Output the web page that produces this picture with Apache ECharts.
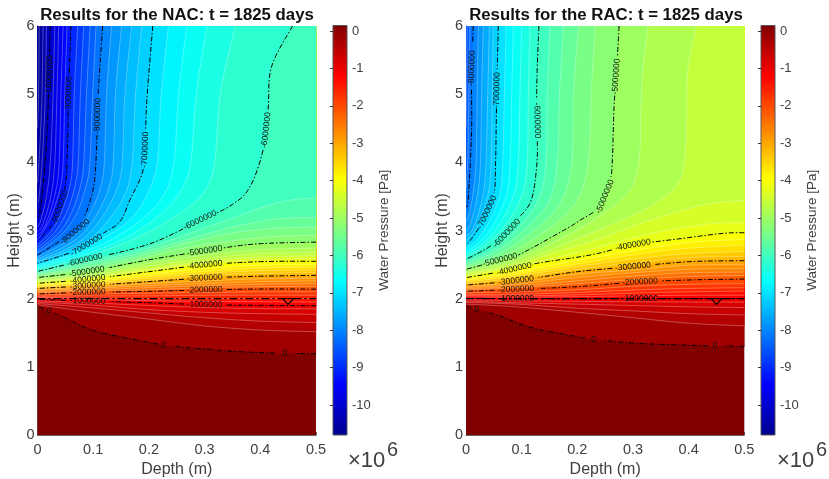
<!DOCTYPE html>
<html><head><meta charset="utf-8">
<style>html,body{margin:0;padding:0;background:#fff}#c{width:829px;height:479px}</style>
<script src="https://cdn.jsdelivr.net/npm/echarts@6/dist/echarts.min.js"></script>
</head><body><div id="c"></div>
<script>
// Depths (m) at which the nearly horizontal contours were read
const stationDepths = [.5,.4,.3,.2,.09,0];
const depthTicks = [0,.1,.2,.3,.4,.5];
const heightTicks = [0,1,2,3,4,5,6];
const colorbarTicks = [0,-1,-2,-3,-4,-5,-6,-7,-8,-9,-10];
const colorMin = -10.8, colorMax = .15;
const waterTable = 2;
const markerDepth = .45, markerHeight = 1.96;

// Contour levels, in 1e6 Pa
const levels = [0,-.2,-.4,-.6,-.8,-1,-1.2,-1.4,-1.6,-1.8,-2,-2.2,-2.4,-2.6,-2.8,-3,-3.2,-3.4,-3.6,-3.8,-4,-4.2,-4.4,-4.6,-4.8,-5,-5.2,-5.4,-5.6,-5.8,-6,-6.2,-6.4,-6.6,-6.8,-7,-7.2,-7.4,-7.6,-7.8,-8,-8.2,-8.4,-8.6,-8.8,-9,-9.2,-9.4,-9.6,-9.8,-10,-10.2,-10.4,-10.6];

// NAC contours, one per level: [depth,height] pairs, or heights at stationDepths
const nacContours = [
[[.5,1.193],[.444,1.198],[.364,1.222],[.292,1.266],[.226,1.32],[.154,1.433],[.112,1.506],[.082,1.59],[.05,1.72],[.02,1.82],[0,1.89]],
[1.515,1.54,1.6,1.7,1.81,1.91],[1.65,1.67,1.72,1.79,1.87,1.93],[1.77,1.78,1.8,1.84,1.91,1.95],[1.85,1.855,1.87,1.9,1.94,1.97],
[1.897,1.902,1.912,1.941,1.966,1.99],[1.95,1.955,1.96,1.97,1.99,2.005],[2,2,2,2,2.01,2.02],[2.05,2.05,2.05,2.04,2.04,2.035],[2.1,2.1,2.09,2.08,2.07,2.055],
[2.14,2.142,2.127,2.108,2.093,2.07],[2.18,2.175,2.16,2.13,2.11,2.085],[2.22,2.21,2.19,2.16,2.13,2.1],[2.26,2.25,2.22,2.19,2.15,2.12],[2.3,2.29,2.26,2.22,2.17,2.135],
[2.342,2.33,2.303,2.25,2.19,2.15],[2.38,2.37,2.335,2.27,2.205,2.165],[2.42,2.41,2.37,2.3,2.22,2.18],[2.46,2.45,2.4,2.33,2.24,2.195],[2.5,2.49,2.44,2.36,2.26,2.21],
[2.548,2.543,2.494,2.396,2.284,2.225],[2.59,2.575,2.52,2.42,2.3,2.24],[2.63,2.61,2.55,2.44,2.32,2.255],[2.68,2.66,2.59,2.48,2.34,2.27],[2.74,2.72,2.64,2.52,2.37,2.29],
[[.5,2.83],[.388,2.8],[.3,2.7],[.2,2.57],[.0885,2.396],[0,2.31]],
[[.5,2.93],[.42,2.91],[.33,2.83],[.25,2.72],[.16,2.54],[.08,2.425],[0,2.33]],
[[.5,3.05],[.42,3.03],[.34,2.95],[.26,2.8],[.17,2.6],[.08,2.455],[0,2.35]],
[[.5,3.19],[.43,3.17],[.35,3.05],[.27,2.87],[.18,2.66],[.08,2.49],[0,2.37]],
[[.5,3.48],[.45,3.44],[.4,3.33],[.34,3.15],[.27,2.95],[.18,2.7],[.08,2.52],[0,2.385]],
[[.458,6],[.42,5.4],[.414,4.77],[.405,4.18],[.38,3.62],[.345,3.356],[.292,3.15],[.2,2.8],[.085,2.566],[0,2.4]],
[[.355,6],[.328,5],[.318,4],[.298,3.55],[.255,3.25],[.185,2.92],[.09,2.62],[0,2.425]],
[[.304,6],[.285,5],[.275,4],[.255,3.55],[.215,3.2],[.155,2.88],[.085,2.65],[0,2.45]],
[[.268,6],[.253,5],[.245,4],[.225,3.5],[.185,3.15],[.135,2.88],[.08,2.68],[0,2.47]],
[[.235,6],[.222,5],[.215,4],[.195,3.5],[.165,3.15],[.12,2.9],[.07,2.68],[0,2.495]],
[[.207,6],[.197,5],[.194,4.48],[.19,3.9],[.166,3.45],[.148,3.13],[.118,2.96],[.088,2.785],[.056,2.665],[0,2.52]],
[[.187,6],[.176,5],[.17,4],[.158,3.55],[.13,3.18],[.095,2.88],[.05,2.68],[0,2.54]],
[[.169,6],[.157,5],[.152,4],[.142,3.6],[.118,3.22],[.085,2.9],[.045,2.7],[0,2.56]],
[[.151,6],[.14,5],[.136,4],[.127,3.6],[.105,3.22],[.078,2.93],[.04,2.73],[0,2.585]],
[[.133,6],[.124,5],[.12,4],[.112,3.6],[.094,3.25],[.07,2.95],[.035,2.76],[0,2.61]],
[[.117,6],[.109,5],[.107,4.4],[.102,3.7],[.089,3.3],[.078,3.12],[.067,2.98],[.03,2.79],[0,2.64]],
[[.105,6],[.099,5],[.094,4],[.087,3.65],[.072,3.28],[.05,3],[.022,2.8],[0,2.675]],
[[.0945,6],[.088,5],[.083,4],[.077,3.65],[.062,3.28],[.042,3],[.018,2.82],[0,2.71]],
[[.083,6],[.077,5],[.073,4],[.067,3.65],[.054,3.3],[.035,3.02],[.015,2.85],[0,2.75]],
[[.072,6],[.066,5],[.063,4],[.058,3.65],[.047,3.35],[.03,3.05],[.012,2.88],[0,2.79]],
[[.06,6],[.056,5],[.053,4],[.049,3.6],[.04,3.34],[.028,3.1],[.012,2.95],[0,2.83]],
[[.053,6],[.049,5],[.046,4],[.04,3.6],[.024,3.2],[.008,2.96],[0,2.87]],
[[.046,6],[.042,5],[.039,4],[.032,3.55],[.015,3.1],[0,2.92]],
[[.038,6],[.035,5],[.031,4],[.024,3.5],[.01,3.1],[0,2.98]],
[[.031,6],[.028,5],[.023,4],[.016,3.5],[.006,3.15],[0,3.05]],
[[.0227,6],[.02,5],[.0138,4],[.005,3.3],[0,3.17]],
[[.016,6],[.014,5],[.009,4.1],[.003,3.5],[0,3.4]],
[[.01,6],[.008,5],[.004,4.2],[0,3.7]],
[[.003,6],[.002,5],[0,4.5]]
];

// RAC contours (level -8.6 and below do not occur)
const racContours = [
[[.5,1.3],[.447,1.306],[.39,1.32],[.307,1.345],[.229,1.403],[.175,1.48],[.115,1.58],[.061,1.746],[.019,1.843],[0,1.892]],
[1.6,1.64,1.72,1.8,1.88,1.92],[1.76,1.78,1.82,1.86,1.92,1.945],[1.87,1.88,1.9,1.92,1.94,1.965],[1.95,1.95,1.955,1.96,1.97,1.985],
[2,2,2,2,2,2.005],[2.05,2.05,2.04,2.03,2.02,2.025],[2.11,2.1,2.08,2.055,2.04,2.045],[2.16,2.15,2.125,2.09,2.065,2.065],[2.22,2.21,2.18,2.13,2.1,2.09],
[2.288,2.274,2.24,2.176,2.137,2.108],[2.34,2.325,2.28,2.22,2.16,2.125],[2.39,2.38,2.33,2.26,2.18,2.145],[2.44,2.43,2.38,2.31,2.21,2.16],[2.5,2.49,2.42,2.36,2.24,2.18],
[2.557,2.543,2.47,2.396,2.264,2.2],[2.62,2.6,2.52,2.43,2.3,2.22],[2.69,2.66,2.58,2.47,2.33,2.245],[2.78,2.74,2.64,2.51,2.36,2.265],[2.87,2.82,2.7,2.56,2.39,2.285],
[[.5,2.968],[.462,2.958],[.39,2.885],[.3,2.787],[.223,2.64],[.127,2.518],[.079,2.42],[0,2.308]],
[[.5,3.12],[.43,3.09],[.33,2.95],[.23,2.74],[.15,2.58],[.09,2.47],[0,2.33]],
[[.5,3.44],[.43,3.38],[.33,3.15],[.24,2.88],[.16,2.68],[.09,2.5],[0,2.355]],
[[.414,6],[.399,5.4],[.396,4.7],[.393,4.05],[.378,3.66],[.33,3.35],[.25,3.05],[.17,2.78],[.09,2.53],[0,2.38]],
[[.327,6],[.318,5.4],[.314,4.7],[.311,4.05],[.295,3.6],[.247,3.25],[.18,2.92],[.09,2.58],[0,2.405]],
[[.275,6],[.271,5.4],[.266,4.82],[.263,4.04],[.259,3.75],[.241,3.36],[.205,3.15],[.175,3],[.094,2.64],[.061,2.567],[0,2.43]],
[[.232,6],[.225,5],[.22,4],[.2,3.45],[.16,3.1],[.07,2.63],[0,2.455]],
[[.202,6],[.193,5],[.19,4],[.172,3.45],[.13,3.05],[.06,2.66],[0,2.48]],
[[.175,6],[.168,5],[.164,4],[.15,3.45],[.11,3.05],[.055,2.7],[0,2.51]],
[[.151,6],[.146,5],[.144,4],[.13,3.45],[.095,3.05],[.05,2.72],[0,2.54]],
[[.131,6],[.128,5.4],[.127,4.92],[.128,4.43],[.127,3.94],[.115,3.4],[.079,3.07],[.073,2.958],[.04,2.75],[0,2.577]],
[[.115,6],[.112,5],[.11,4],[.1,3.5],[.066,3.03],[.03,2.76],[0,2.61]],
[[.1,6],[.097,5],[.094,4],[.085,3.5],[.055,3.03],[.025,2.78],[0,2.65]],
[[.085,6],[.082,5],[.079,4],[.072,3.5],[.045,3.03],[.02,2.8],[0,2.69]],
[[.072,6],[.069,5],[.066,4],[.06,3.5],[.036,3.05],[.015,2.83],[0,2.74]],
[[.058,6],[.055,4.92],[.053,3.94],[.049,3.5],[.025,3.07],[.01,2.88],[0,2.787]],
[[.049,6],[.047,5],[.045,4],[.04,3.55],[.02,3.05],[0,2.85]],
[[.042,6],[.039,5],[.036,4],[.03,3.5],[.014,3.05],[0,2.92]],
[[.031,6],[.028,5],[.026,4],[.02,3.5],[.008,3.1],[0,3]],
[[.022,6],[.02,5],[.018,4],[.012,3.5],[.004,3.2],[0,3.12]],
[[.013,6],[.01,5.16],[.01,4.43],[.004,3.45],[0,3.36]],
[[.007,6],[.005,5],[.003,4],[0,3.6]],
[[.002,6],[.001,5],[0,4.5]]
];

// Contour labels: [level, depth, height]
const nacLabels = [[-10,.02,5.26],[-9,.056,5.04],[-9,.04,3.34],[-8,.108,4.7],[-8,.067,2.98],[-7,.194,4.19],[-7,.088,2.785],[-6,.41,4.5],[-6,.292,3.15],[-6,.085,2.566],[-5,.0885,2.396],[-5,.3,2.7],[-4,.087,2.284],[-4,.304,2.494],[-3,.087,2.19],[-3,.3,2.303],[-2,.087,2.093],[-2,.3,2.127],[-1,.087,1.966],[-1,.3,1.912],[0,.02,1.82],[0,.226,1.32],[0,.444,1.198]];
const racLabels = [[-8,.01,5.36],[-7,.055,5.02],[-7,.037,3.26],[-6,.128,4.6],[-6,.073,2.958],[-5,.269,5.26],[-5,.244,3.5],[-5,.061,2.567],[-4,.3,2.787],[-4,.088,2.41],[-3,.304,2.47],[-3,.088,2.264],[-2,.307,2.24],[-2,.088,2.137],[-1,.088,2],[-1,.307,2],[0,.019,1.843],[0,.229,1.403],[0,.447,1.306]];

const jetStops = [[0,'rgb(0,0,143)'],[.125,'rgb(0,0,255)'],[.375,'rgb(0,255,255)'],[.625,'rgb(255,255,0)'],[.875,'rgb(255,0,0)'],[1,'rgb(128,0,0)']];
function jet(v){
  const t=(v-colorMin)/(colorMax-colorMin);
  const k=[[0,0,0,143],[.125,0,0,255],[.375,0,255,255],[.625,255,255,0],[.875,255,0,0],[1,128,0,0]];
  for(let i=1;i<k.length;i++){ if(t<=k[i][0]){ const a=k[i-1],b=k[i],f=(t-a[0])/(b[0]-a[0]);
    return `rgb(${Math.round(a[1]+(b[1]-a[1])*f)},${Math.round(a[2]+(b[2]-a[2])*f)},${Math.round(a[3]+(b[3]-a[3])*f)})`; } }
  return 'rgb(128,0,0)';
}
function pairs(c){ return typeof c[0]==='number' ? c.map((h,i)=>[stationDepths[i],h]) : c; }
function spline(p){
  const out=[]; const n=p.length;
  for(let i=0;i<n-1;i++){
    const a=p[Math.max(i-1,0)],b=p[i],c=p[i+1],d=p[Math.min(i+2,n-1)];
    for(let s=0;s<8;s++){ const t=s/8,t2=t*t,t3=t2*t;
      out.push([.5*(2*b[0]+(c[0]-a[0])*t+(2*a[0]-5*b[0]+4*c[0]-d[0])*t2+(3*b[0]-a[0]-3*c[0]+d[0])*t3),
                .5*(2*b[1]+(c[1]-a[1])*t+(2*a[1]-5*b[1]+4*c[1]-d[1])*t2+(3*b[1]-a[1]-3*c[1]+d[1])*t3)]); }
  }
  out.push(p[n-1]); return out;
}
function nearest(line,pt){ let bi=0,bd=1e12; line.forEach((q,i)=>{const e=(q[0]-pt[0])**2+(q[1]-pt[1])**2; if(e<bd){bd=e;bi=i;}}); return bi; }
function labelHalf(level){ return level===0?5:18; }

function fillSeries(contours,idx){
  return {type:'custom',xAxisIndex:idx,yAxisIndex:idx,z:2,silent:true,clip:true,
    data:[-1].concat(contours.map((c,i)=>i)).map(i=>[i]),
    renderItem(params,api){
      const i=api.value(0);
      if(i<0){ const a=api.coord([0,6]),b=api.coord([.5,0]);
        return {type:'rect',shape:{x:a[0],y:a[1],width:b[0]-a[0],height:b[1]-a[1]},style:{fill:jet(colorMax)}}; }
      const line=pairs(contours[i]);
      const pts=spline(line.map(p=>api.coord(p)));
      pts.push(api.coord([0,6]));
      if(line[0][0]===.5) pts.push(api.coord([.5,6]));
      const col=jet(levels[i]-.2);
      return {type:'polygon',shape:{points:pts},style:{fill:col,stroke:col,lineWidth:.3}};
    }};
}
function lineSeries(contours,labels,idx){
  const order=contours.map((c,i)=>i).sort((a,b)=>Number(Number.isInteger(levels[a]))-Number(Number.isInteger(levels[b])));
  return {type:'custom',xAxisIndex:idx,yAxisIndex:idx,z:3,silent:true,clip:true,
    data:order.map(i=>[i]),
    renderItem(params,api){
      const i=api.value(0),lev=levels[i];
      const pts=spline(pairs(contours[i]).map(p=>api.coord(p)));
      if(!Number.isInteger(lev))
        return {type:'polyline',shape:{points:pts},style:{stroke:'rgba(255,255,255,.42)',lineWidth:.7,fill:null}};
      const centres=labels.filter(l=>l[0]===lev).map(l=>pts[nearest(pts,api.coord([l[1],l[2]]))]);
      const runs=[];let cur=[];
      pts.forEach(q=>{
        const hid=centres.some(c=>Math.hypot(q[0]-c[0],q[1]-c[1])<labelHalf(lev));
        if(hid){ if(cur.length>1)runs.push(cur); cur=[]; } else cur.push(q);
      });
      if(cur.length>1)runs.push(cur);
      return {type:'group',children:runs.map(r=>({type:'polyline',shape:{points:r},style:{stroke:'#000',lineWidth:1,lineDash:[5,2,1.5,2],fill:null}}))};
    }};
}
function labelSeries(contours,labels,idx){
  return {type:'custom',xAxisIndex:idx,yAxisIndex:idx,z:4,silent:true,clip:false,
    data:labels.map((l,i)=>[i]),
    renderItem(params,api){
      const l=labels[api.value(0)];
      const pts=spline(pairs(contours[levels.indexOf(l[0])]).map(p=>api.coord(p)));
      const k=nearest(pts,api.coord([l[1],l[2]]));
      const a=pts[Math.max(k-3,0)],b=pts[Math.min(k+3,pts.length-1)];
      let ang=Math.atan2(-(b[1]-a[1]),b[0]-a[0]);
      if(ang>Math.PI/2)ang-=Math.PI; if(ang<-Math.PI/2)ang+=Math.PI;
      return {type:'text',x:pts[k][0],y:pts[k][1],rotation:ang,
        style:{text:String(l[0]*1e6),fill:'#111',font:'8.5px "Liberation Sans"',align:'center',verticalAlign:'middle'}};
    }};
}
function waterSeries(idx){
  return [{type:'line',xAxisIndex:idx,yAxisIndex:idx,z:5,silent:true,symbol:'none',data:[[0,waterTable],[.5,waterTable]],
      lineStyle:{color:'#000',width:1.4,type:[8,3,2,3]}},
    {type:'scatter',xAxisIndex:idx,yAxisIndex:idx,z:5,silent:true,data:[[markerDepth,markerHeight]],symbol:'triangle',symbolRotate:180,symbolSize:[11,6],
      itemStyle:{color:'rgba(0,0,0,0)',borderColor:'#000',borderWidth:1.4}}];
}
function barSeries(idx){
  return {type:'custom',xAxisIndex:idx,yAxisIndex:idx,z:2,silent:true,data:[[0,colorMax]],
    renderItem(params,api){
      const a=api.coord([0,colorMax]),b=api.coord([1,colorMin]);
      return {type:'rect',shape:{x:a[0],y:a[1],width:b[0]-a[0],height:b[1]-a[1]},
        style:{fill:{type:'linear',x:0,y:1,x2:0,y2:0,colorStops:jetStops.map(s=>({offset:s[0],color:s[1]}))},stroke:'#555',lineWidth:1}};
    }};
}
const ink='#404040', font='Liberation Sans';
function xAxis(idx,bar){
  if(bar) return {type:'value',gridIndex:idx,min:0,max:1,show:false};
  return {type:'value',gridIndex:idx,min:0,max:.5,interval:.1,name:'Depth (m)',nameLocation:'middle',nameGap:25,
    nameTextStyle:{color:ink,fontFamily:font,fontSize:16},
    axisLine:{show:true,onZero:false,lineStyle:{color:'#666'}},axisTick:{inside:true,length:3,lineStyle:{color:'#666'}},
    axisLabel:{color:ink,fontFamily:font,fontSize:14.5,margin:7,formatter:v=>String(+v.toFixed(1))},splitLine:{show:false}};
}
function yAxis(idx,bar){
  if(bar) return {type:'value',gridIndex:idx,position:'right',min:colorMin,max:colorMax,name:'Water Pressure [Pa]',nameLocation:'middle',nameGap:30,nameRotate:90,
    nameTextStyle:{color:ink,fontFamily:font,fontSize:13.5},
    axisLine:{show:false},axisTick:{show:true,inside:true,length:3,customValues:colorbarTicks,lineStyle:{color:'#333'}},
    axisLabel:{show:true,customValues:colorbarTicks,color:ink,fontFamily:font,fontSize:13,margin:5,padding:[2,0,0,0]},splitLine:{show:false},z:6};
  return {type:'value',gridIndex:idx,min:0,max:6,interval:1,name:'Height (m)',nameLocation:'middle',nameGap:13,
    nameTextStyle:{color:ink,fontFamily:font,fontSize:16},
    axisLine:{show:true,onZero:false,lineStyle:{color:'#666'}},axisTick:{inside:true,length:3,lineStyle:{color:'#666'}},
    axisLabel:{color:ink,fontFamily:font,fontSize:14.5,margin:3,padding:[4,0,0,0]},splitLine:{show:false}};
}
function exponent(x){
  return [{type:'text',left:x,top:450,style:{text:'×10',fill:ink,font:'22px "Liberation Sans"'}},
          {type:'text',left:x+39,top:440,silent:true,style:{text:'6',fill:ink,font:'20px "Liberation Sans"'}}];
}
const chart=echarts.init(document.getElementById('c'),null,{renderer:'canvas'});
chart.setOption({
  animation:false,backgroundColor:'#fff',
  title:[
    {text:'Results for the NAC: t = 1825 days',left:172,top:2,textAlign:'center',textStyle:{fontFamily:font,fontSize:16.8,fontWeight:'bold',color:'#111'}},
    {text:'Results for the RAC: t = 1825 days',left:601,top:2,textAlign:'center',textStyle:{fontFamily:font,fontSize:16.8,fontWeight:'bold',color:'#111'}}
  ],
  grid:[
    {left:37.5,top:26,width:278.5,height:409,outerBoundsMode:'none'},
    {left:333,top:25.5,width:14,height:409.5,outerBoundsMode:'none'},
    {left:466,top:26,width:278.3,height:409,outerBoundsMode:'none'},
    {left:761,top:25.5,width:14,height:409.5,outerBoundsMode:'none'}
  ],
  xAxis:[xAxis(0),xAxis(1,true),xAxis(2),xAxis(3,true)],
  yAxis:[yAxis(0),yAxis(1,true),yAxis(2),yAxis(3,true)],
  series:[
    fillSeries(nacContours,0),lineSeries(nacContours,nacLabels,0),labelSeries(nacContours,nacLabels,0),...waterSeries(0),barSeries(1),
    fillSeries(racContours,2),lineSeries(racContours,racLabels,2),labelSeries(racContours,racLabels,2),...waterSeries(2),barSeries(3)
  ],
  graphic:exponent(348).concat(exponent(777))
});
</script></body></html>
